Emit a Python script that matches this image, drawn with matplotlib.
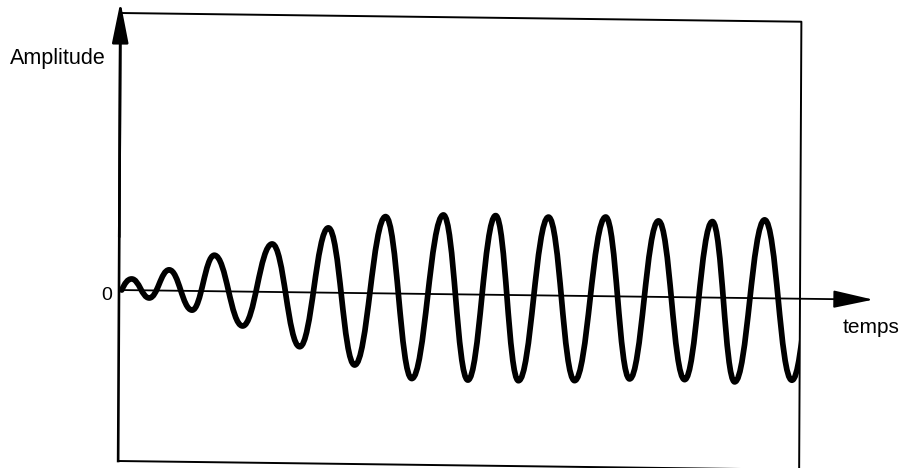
import numpy as np
import matplotlib
matplotlib.use('Agg')
import matplotlib.pyplot as plt
import matplotlib.transforms as mtransforms
from matplotlib.path import Path
from matplotlib.patches import PathPatch

plt.rcParams['font.family'] = ['Liberation Sans', 'DejaVu Sans']

# wave: start point then successive peaks / troughs
# time in (roughly) periods, amplitude relative to the steady state
t_points = [0.05, 0.23, 0.55, 0.91, 1.33, 1.73, 2.25, 2.78, 3.29, 3.80,
            4.29, 4.84, 5.33, 5.89, 6.35, 6.84, 7.27, 7.80, 8.29, 8.84,
            9.29, 9.80, 10.29, 10.78, 11.20, 11.73, 12.24, 12.75]
amp_points = [0.0, 0.14, -0.095, 0.26, -0.24, 0.45, -0.43, 0.60, -0.68, 0.81,
              -0.90, 0.96, -1.06, 0.99, -1.07, 0.99, -1.07, 0.98, -1.06, 0.99,
              -1.03, 0.95, -1.03, 0.95, -1.05, 0.98, -1.02, 0.98]

x_label = "temps"
y_label = "Amplitude"
zero_label = "0"

fig = plt.figure(figsize=(9.04, 4.68), dpi=100)
ax = fig.add_axes([119 / 904, 7 / 468, 681 / 904, 448 / 468])
ax.set_xlim(0, 12.38)
ax.set_ylim(-2.1375, 3.4625)
ax.axis('off')

# the scan is slightly skewed, reproduce it with a small shear in display space
cx, cy = 119, 468 - 290
shear = (mtransforms.Affine2D().translate(-cx, -cy)
         + mtransforms.Affine2D(np.array([[1, 0.005, 0], [-0.0128, 1, 0], [0, 0, 1]]))
         + mtransforms.Affine2D().translate(cx, cy))
tr_data = ax.transData + shear
tr_axes = ax.transAxes + shear

# smooth wave through the extrema (bezier segments, flat tangents at extrema)
k = 0.42
verts = [(t_points[0], amp_points[0])]
codes = [Path.MOVETO]
for i in range(1, len(t_points)):
    t0, a0 = t_points[i - 1], amp_points[i - 1]
    t1, a1 = t_points[i], amp_points[i]
    dt = t1 - t0
    if i == 1:
        c1 = (t0 + 0.3 * dt, a0 + 0.6 * (a1 - a0))
    else:
        c1 = (t0 + k * dt, a0)
    c2 = (t1 - k * dt, a1)
    verts += [c1, c2, (t1, a1)]
    codes += [Path.CURVE4] * 3
wave = PathPatch(Path(verts, codes), fill=False, edgecolor='black', lw=4.1,
                 capstyle='round', joinstyle='round', transform=tr_data)
ax.add_patch(wave)

# frame
ax.plot([0, 1, 1, 0], [1, 1, 0, 0], color='black', lw=1.4,
        transform=tr_axes, clip_on=False)
ax.plot([0, 0], [0, 1], color='black', lw=1.9, transform=tr_axes, clip_on=False)

# axis arrows
ax.annotate('', xy=(0, 1.025), xytext=(0, 0.5), xycoords=tr_axes,
            annotation_clip=False,
            arrowprops=dict(arrowstyle='-|>,head_length=2.5,head_width=0.5',
                            mutation_scale=10, lw=1.9, color='black',
                            shrinkA=0, shrinkB=0))
ax.annotate('', xy=(13.71, 0), xytext=(0, 0), xycoords=tr_data,
            annotation_clip=False,
            arrowprops=dict(arrowstyle='-|>,head_length=2.5,head_width=0.55',
                            mutation_scale=10, lw=1.3, color='black',
                            shrinkA=0, shrinkB=0))

fig.text(10 / 904, 1 - 64 / 468, y_label, fontsize=15.5, ha='left', va='baseline')
fig.text(843 / 904, 1 - 333 / 468, x_label, fontsize=15, ha='left', va='baseline')
fig.text(112 / 904, 1 - 295 / 468, zero_label, fontsize=14, ha='right', va='center')

fig.savefig('out.png', dpi=100)
